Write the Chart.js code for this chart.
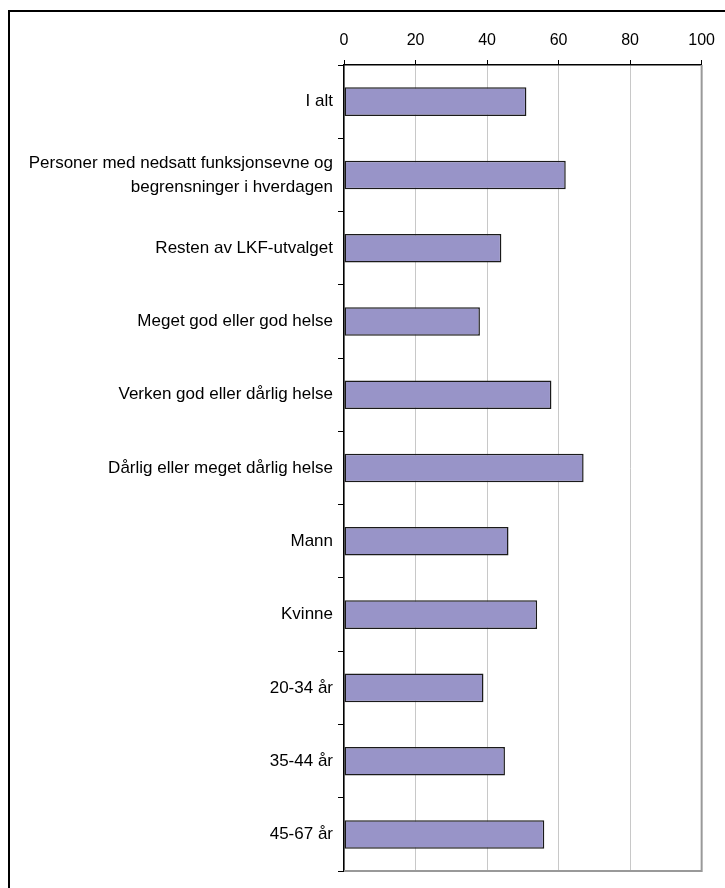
<!DOCTYPE html>
<html>
<head>
<meta charset="utf-8">
<script src="https://cdn.jsdelivr.net/npm/chart.js@4/dist/chart.umd.min.js"></script>
<style>
  body { margin: 0; background: #fff; }
  #wrap { width: 725px; height: 888px; position: relative; }
</style>
</head>
<body>
<div id="wrap"><canvas id="chart" width="725" height="888"></canvas></div>
<script>
// Categories and values (percent)
const categories = [
    "I alt",
    ["Personer med nedsatt funksjonsevne og", "begrensninger i hverdagen"],
    "Resten av LKF-utvalget",
    "Meget god eller god helse",
    "Verken god eller dårlig helse",
    "Dårlig eller meget dårlig helse",
    "Mann",
    "Kvinne",
    "20-34 år",
    "35-44 år",
    "45-67 år"
];
const values = [51, 62, 44, 38, 58, 67, 46, 54, 39, 45, 56];
const xTicks = [0, 20, 40, 60, 80, 100];

// Frame lines: outer border (top/left) and grey right/bottom edge of plot
const framePlugin = {
    id: 'frame',
    afterDraw(chart) {
        const c = chart.ctx;
        const a = chart.chartArea;
        c.save();
        c.strokeStyle = '#000';
        c.lineWidth = 2;
        c.beginPath();
        c.moveTo(9, 888);
        c.lineTo(9, 11);
        c.lineTo(725, 11);
        c.stroke();
        c.strokeStyle = '#999';
        c.lineWidth = 2;
        c.beginPath();
        c.moveTo(a.left, a.bottom);
        c.lineTo(a.right, a.bottom);
        c.lineTo(a.right, a.top);
        c.stroke();
        c.restore();
    }
};

const ctx = document.getElementById("chart").getContext("2d");
new Chart(ctx, {
    type: "bar",
    data: {
        labels: categories,
        datasets: [{
            data: values,
            backgroundColor: "#9894c8",
            borderColor: "#1a1a1a",
            borderWidth: 1.5,
            borderSkipped: false,
            categoryPercentage: 1,
            barPercentage: 0.39
        }]
    },
    options: {
        indexAxis: 'y',
        responsive: false,
        animation: false,
        layout: { padding: { left: 0, right: 22, top: 0, bottom: 5 } },
        plugins: {
            legend: { display: false },
            tooltip: { enabled: false }
        },
        scales: {
            x: {
                position: 'top',
                min: 0,
                max: 100,
                afterBuildTicks: scale => { scale.ticks = xTicks.map(v => ({ value: v })); },
                afterFit: scale => { scale.height = 65; },
                grid: {
                    color: '#c8c8c8',
                    lineWidth: 1,
                    tickColor: '#000',
                    tickLength: 5
                },
                border: { color: '#000', width: 1.5 },
                ticks: {
                    color: '#000',
                    padding: 10,
                    font: { family: 'Liberation Sans, Arial, sans-serif', size: 16 }
                }
            },
            y: {
                afterFit: scale => { scale.width = 344; },
                grid: {
                    offset: true,
                    drawOnChartArea: false,
                    tickColor: '#000',
                    tickLength: 6
                },
                border: { color: '#000', width: 1.5 },
                ticks: {
                    color: '#000',
                    padding: 5,
                    font: { family: 'Liberation Sans, Arial, sans-serif', size: 17, lineHeight: 1.4 }
                }
            }
        }
    },
    plugins: [framePlugin]
});
</script>
</body>
</html>
